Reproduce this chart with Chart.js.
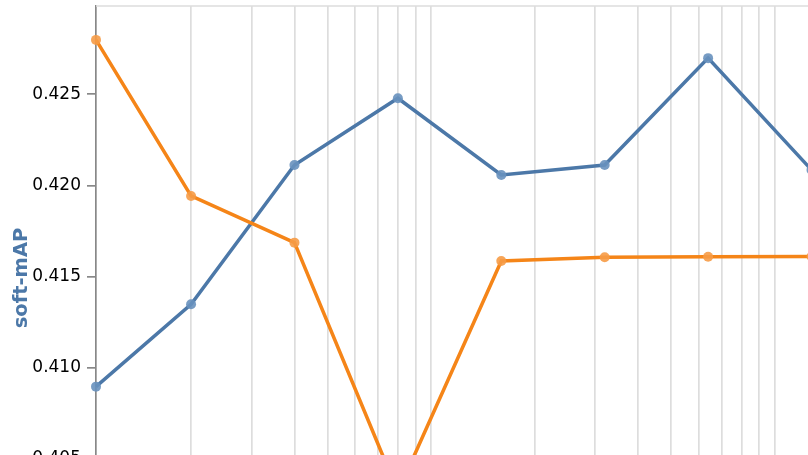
<!DOCTYPE html>
<html>
<head>
<meta charset="utf-8">
<script src="https://cdn.jsdelivr.net/npm/chart.js@4.4.1/dist/chart.umd.min.js"></script>
<style>
  html, body { margin: 0; padding: 0; background: #fff; overflow: hidden; width: 808px; height: 455px; }
  #wrap { position: absolute; left: 0; top: 0; width: 900px; height: 600px; }
</style>
</head>
<body>
<div id="wrap"><canvas id="c" width="900" height="600"></canvas></div>
<script>
// ---- data ----
const xValues = [1.0575, 2, 4, 8, 16, 32, 64, 128];
const softMapBlue = [0.40896, 0.41348, 0.42112, 0.42478, 0.42057, 0.42112, 0.42698, 0.42085];
const seriesOrange = [0.42798, 0.41942, 0.41686, 0.40318, 0.41585, 0.41606, 0.41609, 0.41610];
const yTickValues = [0.400, 0.405, 0.410, 0.415, 0.420, 0.425];
const xGridValues = [2, 3, 4, 5, 6, 7, 8, 9, 10, 20, 30, 40, 50, 60, 70, 80, 90, 100, 200];
const yTitle = 'soft-mAP';

const toPoints = (ys) => ys.map((y, i) => ({ x: xValues[i], y: y }));

const frame = {
  id: 'frame',
  beforeDatasetsDraw(chart) {
    const a = chart.chartArea, ctx = chart.ctx;
    ctx.save();
    ctx.strokeStyle = '#dddddd';
    ctx.lineWidth = 1.7;
    ctx.beginPath();
    ctx.moveTo(a.left, a.top);
    ctx.lineTo(a.right, a.top);
    ctx.stroke();
    ctx.restore();
  }
};

new Chart(document.getElementById('c'), {
  type: 'line',
  data: {
    datasets: [
      {
        label: 'soft-mAP',
        data: toPoints(softMapBlue),
        borderColor: '#4c78a8',
        backgroundColor: 'rgba(76,120,168,0.75)',
        pointBackgroundColor: 'rgba(104,145,190,0.9)',
        pointBorderWidth: 0,
        pointRadius: 5,
        borderWidth: 3.5,
        tension: 0,
        order: 1,
        clip: false
      },
      {
        label: 'other',
        data: toPoints(seriesOrange),
        borderColor: '#f58518',
        backgroundColor: 'rgba(245,133,24,0.75)',
        pointBackgroundColor: 'rgba(246,155,70,0.9)',
        pointBorderWidth: 0,
        pointRadius: 5,
        borderWidth: 3.5,
        tension: 0,
        order: 0,
        clip: false
      }
    ]
  },
  options: {
    responsive: false,
    animation: false,
    devicePixelRatio: 1,
    layout: { padding: { top: 6, right: 0, bottom: 0, left: 0 } },
    plugins: { legend: { display: false }, tooltip: { enabled: false } },
    scales: {
      x: {
        type: 'logarithmic',
        min: xValues[0],
        max: 224,
        afterBuildTicks: (s) => { s.ticks = xGridValues.map(v => ({ value: v })); },
        afterFit: (s) => { s.height = 50; s.paddingLeft = 0; s.paddingRight = 0; },
        ticks: { display: false },
        grid: { color: '#dddddd', lineWidth: 1.7, drawTicks: false },
        border: { display: false }
      },
      y: {
        type: 'linear',
        min: 0.400,
        max: 0.42984,
        afterBuildTicks: (s) => { s.ticks = yTickValues.map(v => ({ value: v })); },
        afterFit: (s) => { s.width = 96; s.paddingTop = 0; s.paddingBottom = 0; },
        ticks: {
          padding: 6,
          color: '#000',
          font: { family: 'DejaVu Sans', size: 17 },
          callback: (v) => Number(v).toFixed(3)
        },
        grid: { drawOnChartArea: false, color: '#888888', lineWidth: 1.7, tickLength: 9 },
        border: { display: true, color: '#888888', width: 1.7 },
        title: {
          display: true,
          text: yTitle,
          color: '#4c78a8',
          font: { family: 'DejaVu Sans', size: 19.5, weight: 'bold' },
          padding: { top: 10, bottom: 0 }
        }
      }
    }
  },
  plugins: [frame]
});
</script>
</body>
</html>
